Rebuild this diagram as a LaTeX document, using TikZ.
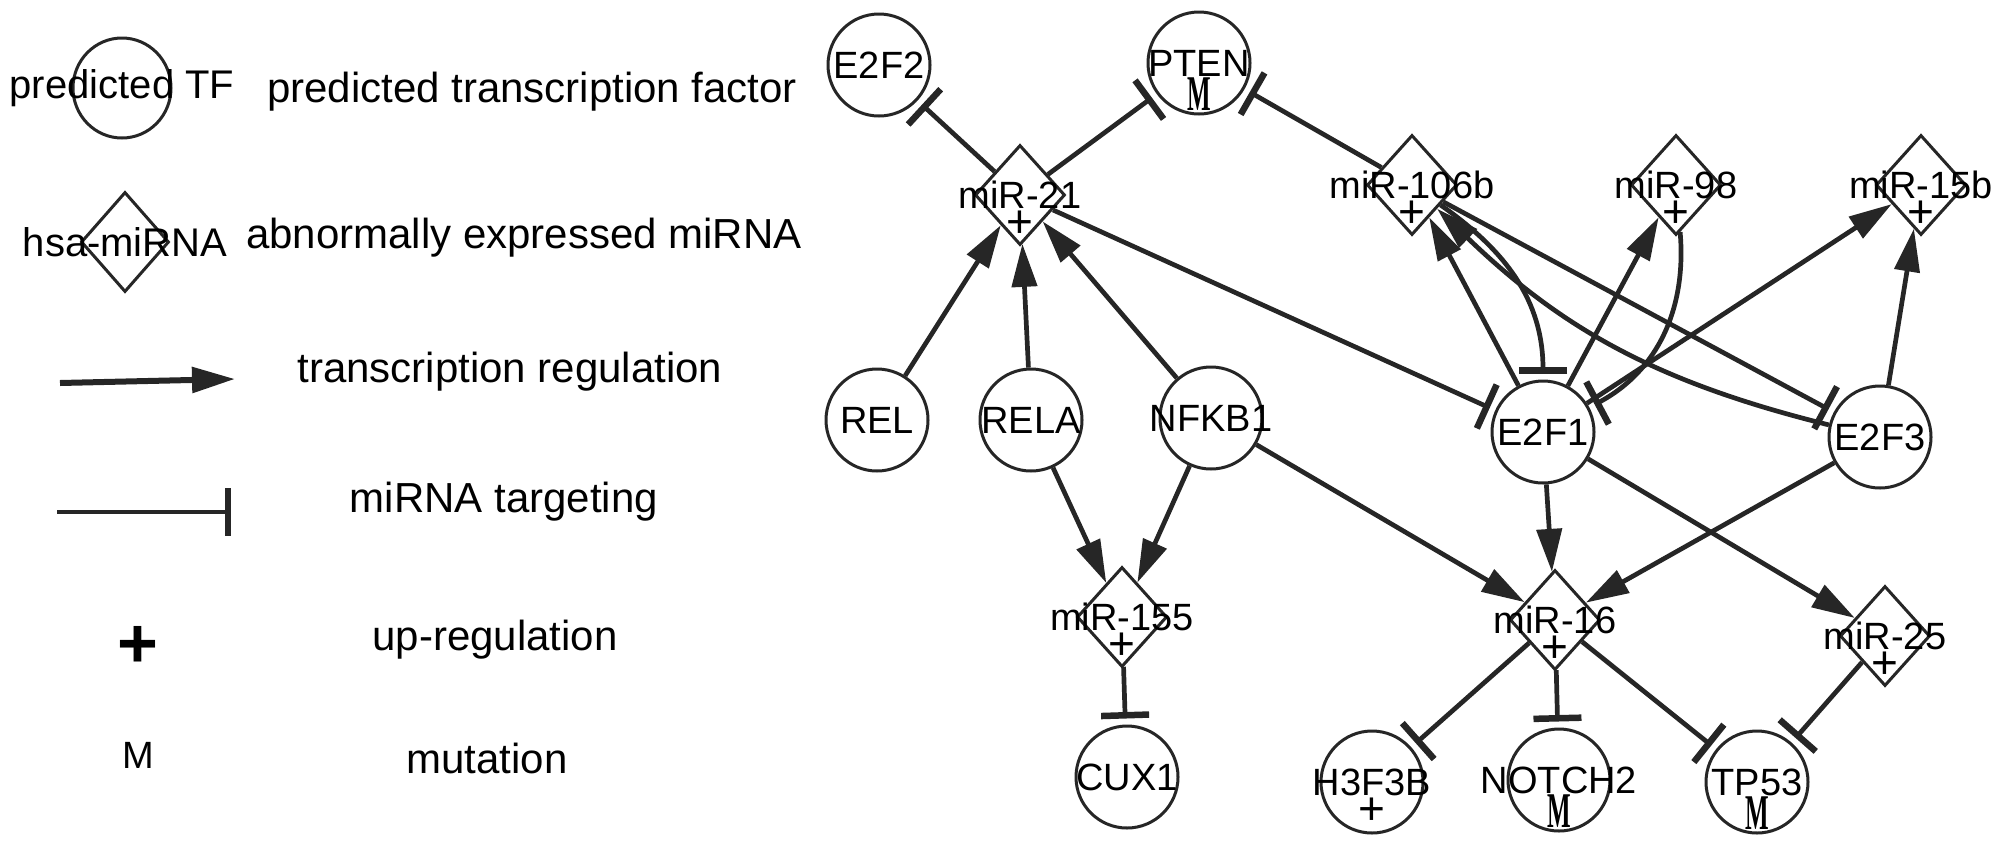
\documentclass[tikz,border=0pt]{standalone}
\usepackage{fontspec}
\usepackage{graphicx}
\setmainfont{Liberation Sans}
\newfontfamily\mutserif{Liberation Serif}
\usetikzlibrary{shapes.geometric,arrows.meta}
\definecolor{edge}{HTML}{262626}

\begin{document}
\begin{tikzpicture}[x=1pt, y=1pt,
    every label/.style={inner sep=0pt, font=\fontsize{38}{40}\selectfont},
    tf/.style={ellipse, draw=edge, line width=3pt, minimum width=102pt, minimum height=102pt, inner sep=0pt},
    mir/.style={diamond, draw=edge, line width=3pt, minimum width=90pt, minimum height=100pt, inner sep=0pt},
    upmark/.style={yshift=-29pt, font=\fontsize{46}{46}\selectfont},
    mutmark/.style={yshift=-31pt, font=\fontsize{50}{50}\selectfont\mutserif\bfseries},
    desc/.style={anchor=base, inner sep=0pt, font=\fontsize{42}{44}\selectfont},
    act/.style={draw=edge, line width=4.7pt, -{Triangle[length=43pt, width=25pt]}},
    inh/.style={draw=edge, line width=4.7pt, -{Bar[width=48pt, line width=6.5pt]}, shorten >=6pt}]

    \useasboundingbox (0,0) rectangle (2008,-847);

    % legend
    \node[tf, minimum width=98pt, minimum height=100pt, label={[font=\fontsize{40}{42}\selectfont]center:predicted TF}] (ltf) at (122,-88) {};
    \node[mir, minimum width=88pt, label={[font=\fontsize{40}{42}\selectfont]center:hsa-miRNA}] (lmir) at (125,-242) {};
    \coordinate (la1) at (60,-383);
    \coordinate (la2) at (235,-379);
    \coordinate (lb1) at (57,-512);
    \coordinate (lb2) at (231,-512);
    \draw[act, line width=6pt] (la1) -- (la2);
    \draw[inh, shorten >=0pt] (lb1) -- (lb2);
    \node[font=\fontsize{70}{70}\selectfont\bfseries] (lplus) at (138,-647) {+};
    \node[anchor=base, font=\fontsize{38}{38}\selectfont] (lmut) at (138,-768) {M};

    \node[desc] (dtf) at (532,-102) {predicted transcription factor};
    \node[desc] (dmir) at (524,-248) {abnormally expressed miRNA};
    \node[desc] (dact) at (510,-382) {transcription regulation};
    \node[desc] (dinh) at (504,-512) {miRNA targeting};
    \node[desc] (dup) at (495,-650) {up-regulation};
    \node[desc] (dmut) at (487,-773) {mutation};

    % network
    \node[tf, label=center:E2F2] (e2f2) at (879,-65) {};
    \node[tf, label=center:PTEN, label={[mutmark]center:\scalebox{0.5}[1]{M}}] (pten) at (1199,-63) {};
    \node[mir, label=center:miR-21, label={[upmark]center:+}] (m21) at (1020,-195) {};
    \node[mir, label=center:miR-106b, label={[upmark]center:+}] (m106b) at (1412,-185) {};
    \node[mir, label=center:miR-98, label={[upmark]center:+}] (m98) at (1676,-185) {};
    \node[mir, label=center:miR-15b, label={[upmark]center:+}] (m15b) at (1921,-185) {};

    \node[tf, label=center:REL] (rel) at (877,-420) {};
    \node[tf, label=center:RELA] (rela) at (1031,-420) {};
    \node[tf, label=center:NFKB1] (nfkb1) at (1211,-418) {};
    \node[tf, label=center:E2F1] (e2f1) at (1543,-432) {};
    \node[tf, label=center:E2F3] (e2f3) at (1880,-437) {};

    \node[mir, label=center:miR-155, label={[upmark]center:+}] (m155) at (1122,-617) {};
    \node[mir, label=center:miR-16, label={[upmark]center:+}] (m16) at (1555,-620) {};
    \node[mir, label=center:miR-25, label={[upmark]center:+}] (m25) at (1885,-636) {};

    \node[tf, label=center:CUX1] (cux1) at (1127,-777) {};
    \node[tf, label=center:H3F3B, label={[upmark]center:+}] (h3f3b) at (1372,-782) {};
    \node[tf, label=center:NOTCH2, label={[mutmark]center:\scalebox{0.5}[1]{M}}] (notch2) at (1559,-780) {};
    \node[tf, label=center:TP53, label={[mutmark]center:\scalebox{0.5}[1]{M}}] (tp53) at (1757,-782) {};

    \draw[act] (rel) -- (m21);
    \draw[act] (rela) -- (m21);
    \draw[act] (nfkb1) -- (m21);
    \draw[inh] (m21) -- (e2f2);
    \draw[inh] (m21) -- (pten);
    \draw[inh] (m106b) -- (pten);
    \draw[inh] (m21) -- (e2f1);

    \draw[act] (rela) -- (m155);
    \draw[act] (nfkb1) -- (m155);
    \draw[act] (nfkb1) -- (m16);
    \draw[act] (e2f1) -- (m16);
    \draw[act] (e2f3) -- (m16);
    \draw[act] (e2f1) -- (m25);

    \draw[inh] (m155) -- (cux1);
    \draw[inh] (m16) -- (h3f3b);
    \draw[inh] (m16) -- (notch2);
    \draw[inh] (m16) -- (tp53);
    \draw[inh] (m25) -- (tp53);

    \draw[act] (e2f1) -- (m106b);
    \draw[act] (e2f3) to[bend left=15] (m106b);
    \draw[inh] (m106b) to[out=-35, in=90] (e2f1);
    \draw[inh] (m106b) -- (e2f3);
    \draw[act] (e2f1) -- (m98);
    \draw[inh] (m98) to[out=-85, in=28] (e2f1);
    \draw[act] (e2f1) -- (m15b);
    \draw[act] (e2f3) -- (m15b);
\end{tikzpicture}
\end{document}
